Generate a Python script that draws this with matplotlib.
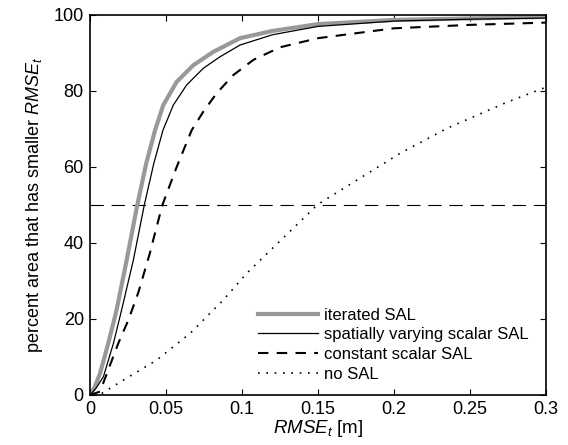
import matplotlib
matplotlib.use("Agg")
import matplotlib.pyplot as plt

plt.rcParams['font.family'] = ['Liberation Sans', 'DejaVu Sans']
plt.rcParams['mathtext.fontset'] = 'custom'
plt.rcParams['mathtext.it'] = 'Liberation Sans:italic'
plt.rcParams['mathtext.rm'] = 'Liberation Sans'

# values
iter_x = [0, 0.003, 0.0066, 0.012, 0.0175, 0.0241, 0.0311, 0.037, 0.0428, 0.0482,
          0.057, 0.068, 0.0811, 0.0987, 0.12, 0.15, 0.2, 0.25, 0.3]
iter_y = [0, 2.0, 5.7, 13.6, 22.4, 35.5, 50, 61, 69.7, 76.3,
          82.4, 86.8, 90.3, 93.9, 95.8, 97.6, 98.7, 99.1, 99.5]

spat_x = [0, 0.004, 0.0088, 0.0154, 0.0208, 0.0285, 0.0357, 0.042, 0.048, 0.0548,
          0.0636, 0.0746, 0.0855, 0.0987, 0.12, 0.15, 0.2, 0.25, 0.3]
spat_y = [0, 1.8, 4.8, 13.6, 22.4, 35.5, 50, 61, 69.7, 76.3,
          81.6, 86.0, 89.0, 92.1, 94.8, 97.0, 98.4, 98.9, 99.2]

const_x = [0, 0.0066, 0.0132, 0.0186, 0.0252, 0.0318, 0.0351, 0.0395, 0.0417, 0.0476,
           0.057, 0.0669, 0.0746, 0.0833, 0.0943, 0.1075, 0.125, 0.15, 0.2, 0.25, 0.3]
const_y = [0, 0.9, 7.9, 13.6, 19.7, 27.0, 31.5, 37.5, 41.0, 50,
           60, 69.7, 74.6, 79.4, 84.2, 88.2, 91.5, 93.9, 96.5, 97.4, 98.0]

nosal_x = [0.0077, 0.0219, 0.0439, 0.0658, 0.0877, 0.103, 0.15, 0.204, 0.235, 0.274, 0.3]
nosal_y = [0.4, 3.9, 9.2, 16.2, 25.0, 32.0, 50.2, 63.6, 70.2, 77.0, 81.0]

half_level = 50

fig = plt.figure(figsize=(5.68, 4.45), dpi=100)
ax = fig.add_axes([0.1585, 0.1124, 0.8028, 0.8539])

ax.axhline(half_level, color='black', lw=0.8, dashes=(12, 7))
ax.plot(iter_x, iter_y, color='#999999', lw=3, label='iterated SAL')
ax.plot(spat_x, spat_y, color='black', lw=0.9, label='spatially varying scalar SAL')
ax.plot(const_x, const_y, color='black', lw=1.5, dashes=(5, 4), label='constant scalar SAL')
ax.plot(nosal_x, nosal_y, color='black', lw=1.2, dashes=(1, 4), label='no SAL')

ax.set_xlim(0, 0.3)
ax.set_ylim(0, 100)
ax.set_xticks([0, 0.05, 0.1, 0.15, 0.2, 0.25, 0.3])
ax.set_xticklabels(['0', '0.05', '0.1', '0.15', '0.2', '0.25', '0.3'])
ax.set_yticks([0, 20, 40, 60, 80, 100])
ax.tick_params(direction='in', top=True, right=True, labelsize=13, length=4, pad=4.5)
for s in ax.spines.values():
    s.set_linewidth(1.2)

ax.set_xlabel(r'$\mathit{RMSE}_t$ [m]', fontsize=13.5, labelpad=0)
ax.set_ylabel(r'percent area that has smaller $\mathit{RMSE}_t$', fontsize=13, labelpad=6)

ax.legend(loc='lower right', frameon=False, fontsize=12, handlelength=3.6,
          handletextpad=0.35, labelspacing=0.28, borderaxespad=0.4,
          bbox_to_anchor=(0.99, 0.0))

fig.savefig('out.png', dpi=100)
